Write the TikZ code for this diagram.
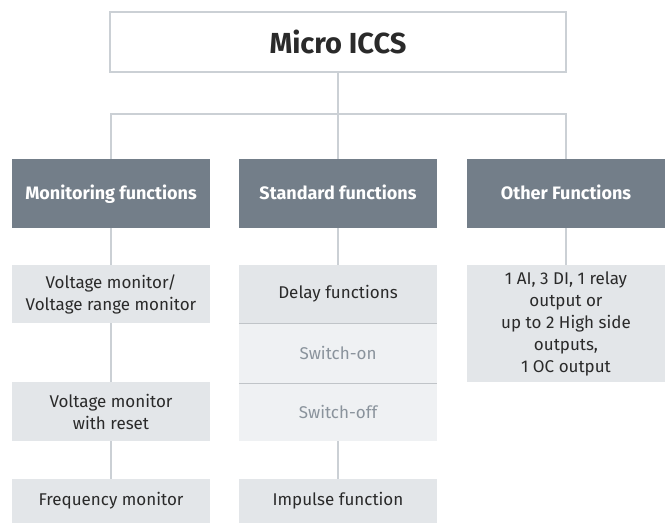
\documentclass[tikz,border=0pt]{standalone}
\usepackage{fontspec}
\setmainfont{Fira Sans}
\usepackage{xcolor}
\usepackage{tikz}

\definecolor{linegray}{HTML}{CBD0D5}
\definecolor{headgray}{HTML}{737E89}
\definecolor{boxgray}{HTML}{E3E6E9}
\definecolor{subgray}{HTML}{EFF1F3}
\definecolor{subtext}{HTML}{8A939C}
\definecolor{bodytext}{HTML}{2A2A2A}

\tikzset{
  headbox/.style={fill=headgray,text=white,minimum width=198pt,minimum height=69pt,
    text height=12.4pt,text depth=0pt,font=\fontsize{18}{22}\selectfont\bfseries},
  itembox/.style={fill=boxgray,text=bodytext,minimum width=198pt,align=center,
    inner sep=1pt,font=\fontsize{17}{22}\selectfont},
  subbox/.style={itembox,fill=subgray,text=subtext},
  link/.style={draw=linegray,line width=1.5pt}
}

\begin{document}
\begin{tikzpicture}[x=1pt,y=-1pt]
    \useasboundingbox (0,0) rectangle (665,524);

    % Top box
    \node[draw=linegray,line width=1.5pt,fill=white,minimum width=456pt,minimum height=60pt,
      text=bodytext,font=\fontsize{29}{32}\selectfont\bfseries] (top) at (338,42) {Micro ICCS};
    \coordinate (hub) at (338,114);

    % Headers
    \node[headbox] (mon) at (111,193.5) {Monitoring functions};
    \node[headbox] (std) at (338,193.5) {Standard functions};
    \node[headbox] (oth) at (566,193.5) {Other Functions};

    % Monitoring column
    \node[itembox,minimum height=58pt] (volt) at (111,294) {Voltage monitor/\\Voltage range monitor};
    \node[itembox,minimum height=59pt] (reset) at (111,411.5) {Voltage monitor\\with reset};
    \node[itembox,minimum height=44pt] (freq) at (111,501) {Frequency monitor};

    % Standard column
    \node[itembox,minimum height=58pt] (delay) at (338,294) {Delay functions};
    \node[subbox,minimum height=60pt] (on) at (338,353) {Switch-on};
    \node[subbox,minimum height=58pt] (off) at (338,412) {Switch-off};
    \node[itembox,minimum height=44pt] (imp) at (338,501) {Impulse function};
    \draw[draw=linegray!85!gray,line width=1.2pt] (delay.south west) -- (delay.south east);
    \draw[draw=linegray!85!gray,line width=1.2pt] (on.south west) -- (on.south east);

    % Other column
    \node[itembox,minimum height=117pt] (io) at (566,323.5)
      {1 AI, 3 DI, 1 relay\\output or\\up to 2 High side\\outputs,\\1 OC output};

    % Connectors
    \draw[link] (top.south) -- (hub);
    \draw[link] (mon.north) |- (hub) -| (oth.north);
    \draw[link] (hub) -- (std.north);
    \draw[link] (mon.south) -- (volt.north);
    \draw[link] (volt.south) -- (reset.north);
    \draw[link] (reset.south) -- (freq.north);
    \draw[link] (std.south) -- (delay.north);
    \draw[link] (off.south) -- (imp.north);
    \draw[link] (oth.south) -- (io.north);
\end{tikzpicture}
\end{document}
